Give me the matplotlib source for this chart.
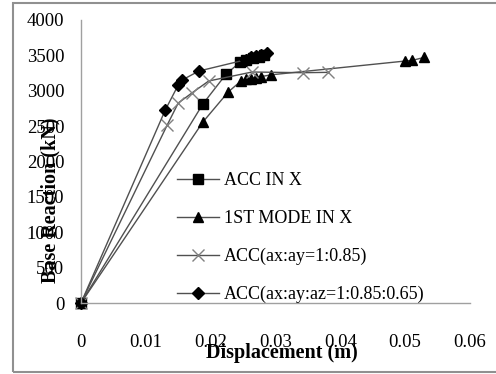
import matplotlib
matplotlib.use("Agg")
import matplotlib.pyplot as plt
from matplotlib.patches import Rectangle

# Data
acc_x_disp = [0, 0.0188, 0.0224, 0.0245, 0.0255, 0.0265, 0.0275, 0.0283]
acc_x_force = [0, 2813, 3237, 3400, 3430, 3460, 3480, 3500]

mode_disp = [0, 0.0188, 0.0227, 0.0247, 0.0255, 0.0262, 0.0270, 0.0278, 0.0293, 0.0500, 0.0511, 0.0529]
mode_force = [0, 2558, 2982, 3140, 3160, 3170, 3185, 3200, 3225, 3420, 3430, 3470]

acc2_disp = [0, 0.0133, 0.0150, 0.0171, 0.0197, 0.0264, 0.0342, 0.0381]
acc2_force = [0, 2516, 2827, 2968, 3138, 3265, 3255, 3260]

acc3_disp = [0, 0.0130, 0.0150, 0.0156, 0.0182, 0.0255, 0.0262, 0.0270, 0.0278, 0.0287]
acc3_force = [0, 2728, 3081, 3152, 3279, 3440, 3470, 3490, 3510, 3530]

labels = ["ACC IN X", "1ST MODE IN X", "ACC(ax:ay=1:0.85)", "ACC(ax:ay:az=1:0.85:0.65)"]
x_ticks = [0, 0.01, 0.02, 0.03, 0.04, 0.05, 0.06]
x_ticklabels = ["0", "0.01", "0.02", "0.03", "0.04", "0.05", "0.06"]
y_ticks = [0, 500, 1000, 1500, 2000, 2500, 3000, 3500, 4000]

plt.rcParams['font.family'] = ['Liberation Serif', 'DejaVu Serif']

W, H = 496, 374
fig = plt.figure(figsize=(W / 100, H / 100), dpi=100)
ax = fig.add_axes([81 / W, 1 - 303 / H, (470 - 81) / W, (303 - 20) / H])

lc = '#505050'
ax.plot(acc_x_disp, acc_x_force, color=lc, lw=1.0, marker='s', ms=7.5, mfc='black', mec='black', label=labels[0], clip_on=False)
ax.plot(mode_disp, mode_force, color=lc, lw=1.0, marker='^', ms=7.5, mfc='black', mec='black', label=labels[1], clip_on=False)
ax.plot(acc2_disp, acc2_force, color=lc, lw=1.0, marker='x', ms=8, mfc='#808080', mec='#808080', mew=1.0, label=labels[2], clip_on=False)
ax.plot(acc3_disp, acc3_force, color=lc, lw=1.0, marker='D', ms=6.5, mfc='black', mec='black', label=labels[3], clip_on=False)

ax.set_xlim(0, 0.06)
ax.set_ylim(0, 4000)
ax.set_xticks(x_ticks)
ax.set_xticklabels(x_ticklabels)
ax.set_yticks(y_ticks)
ax.tick_params(axis='both', length=0, labelsize=13.5)
ax.tick_params(axis='x', pad=22)
ax.tick_params(axis='y', pad=12)
for s in ['top', 'right']:
    ax.spines[s].set_visible(False)
for s in ['left', 'bottom']:
    ax.spines[s].set_color('#a0a0a0')
    ax.spines[s].set_linewidth(1.0)
ax.set_facecolor('white')

leg = ax.legend(loc='upper left', bbox_to_anchor=((170 - 81) / (470 - 81), (303 - 165) / (303 - 20)),
                frameon=False, fontsize=13, handlelength=2.3, handletextpad=0.3,
                labelspacing=1.15, borderaxespad=0)

fig.text(282 / W, 1 - 353 / H, "Displacement (m)", ha='center', va='center',
         fontsize=14.5, fontweight='bold')
fig.text(50 / W, 1 - 200 / H, "Base Reaction (kN)", ha='center', va='center',
         fontsize=14.5, fontweight='bold', rotation=90)

fig.patches.append(Rectangle((13 / W, 1 - 372 / H), (W - 13) / W + 0.01, (372 - 3) / H,
                             transform=fig.transFigure, fill=False, edgecolor='#909090', lw=1.5))

fig.savefig("out.png", dpi=100)
